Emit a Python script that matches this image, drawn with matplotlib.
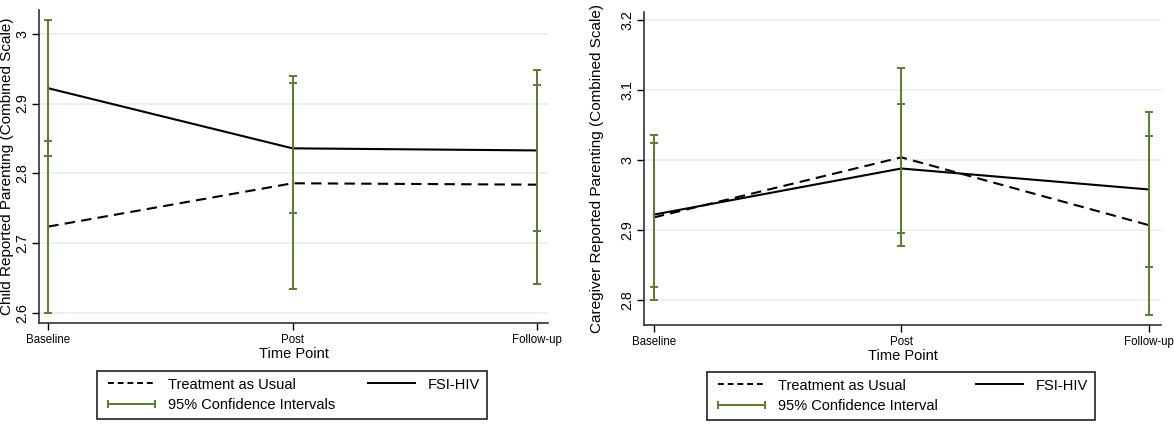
import matplotlib
matplotlib.use("Agg")
import matplotlib.pyplot as plt
from matplotlib.lines import Line2D
import numpy as np

plt.rcParams['font.family'] = ['Liberation Sans', 'DejaVu Sans']

# ---------------- data ----------------
time_points = ["Baseline", "Post", "Follow-up"]

# Panel 1: child reported
child_fsi_mean = [2.922, 2.836, 2.833]
child_fsi_lo = [2.825, 2.743, 2.718]
child_fsi_hi = [3.019, 2.929, 2.948]
child_tau_mean = [2.724, 2.786, 2.784]
child_tau_lo = [2.600, 2.634, 2.642]
child_tau_hi = [2.847, 2.939, 2.926]
child_yticks = [2.6, 2.7, 2.8, 2.9, 3.0]
child_yticklabels = ["2.6", "2.7", "2.8", "2.9", "3"]

# Panel 2: caregiver reported
care_fsi_mean = [2.922, 2.988, 2.958]
care_fsi_lo = [2.819, 2.895, 2.847]
care_fsi_hi = [3.025, 3.081, 3.069]
care_tau_mean = [2.918, 3.004, 2.907]
care_tau_lo = [2.800, 2.877, 2.779]
care_tau_hi = [3.036, 3.132, 3.034]
care_yticks = [2.8, 2.9, 3.0, 3.1, 3.2]
care_yticklabels = ["2.8", "2.9", "3", "3.1", "3.2"]

GREEN = '#5a7d2e'
GRID = '#e6efef'

fig = plt.figure(figsize=(11.74, 4.25), dpi=100)
ax1 = fig.add_axes([39/1174, 1-323/425, 509/1174, 313/425])
ax2 = fig.add_axes([644/1174, 1-325/425, 517/1174, 313/425])


def draw_panel(ax, fsi_m, fsi_lo, fsi_hi, tau_m, tau_lo, tau_hi,
               yticks, yticklabels, ylim, xlim, ylabel, ylabel_x):
    x = np.arange(1, len(time_points) + 1)
    for yt in yticks:
        ax.axhline(yt, color=GRID, lw=1.2, zorder=0)
    ax.plot(x, tau_m, color='black', lw=1.5, dashes=(5, 3), zorder=2)
    ax.plot(x, fsi_m, color='black', lw=1.5, zorder=2)
    for m, lo, hi in ((fsi_m, fsi_lo, fsi_hi), (tau_m, tau_lo, tau_hi)):
        m = np.array(m); lo = np.array(lo); hi = np.array(hi)
        ax.errorbar(x, m, yerr=[m - lo, hi - m], fmt='none', ecolor=GREEN,
                    elinewidth=1.4, capsize=3, capthick=1.4, zorder=3)
    ax.set_xlim(*xlim)
    ax.set_ylim(*ylim)
    ax.set_xticks(x)
    ax.set_xticklabels(time_points, fontsize=8.3)
    ax.set_yticks(yticks)
    ax.set_yticklabels(yticklabels, fontsize=10.3, rotation=90, va='center')
    ax.tick_params(axis='x', length=5, width=1, pad=3, colors='black')
    ax.tick_params(axis='y', length=5, width=1, pad=2, colors='black')
    for s in ('top', 'right'):
        ax.spines[s].set_visible(False)
    for s in ('left', 'bottom'):
        ax.spines[s].set_linewidth(1.1)
        ax.spines[s].set_color('#222222')
    ax.set_xlabel("Time Point", fontsize=10.5, labelpad=1)
    ax.set_ylabel(ylabel, fontsize=11, va='center')
    ax.yaxis.set_label_coords(ylabel_x, 0.5)


draw_panel(ax1, child_fsi_mean, child_fsi_lo, child_fsi_hi,
           child_tau_mean, child_tau_lo, child_tau_hi,
           child_yticks, child_yticklabels, (2.586, 3.034), (0.962, 3.046),
           "Child Reported Parenting (Combined Scale)", -0.063)
draw_panel(ax2, care_fsi_mean, care_fsi_lo, care_fsi_hi,
           care_tau_mean, care_tau_lo, care_tau_hi,
           care_yticks, care_yticklabels, (2.764, 3.212), (0.96, 3.05),
           "Caregiver Reported Parenting (Combined Scale)", -0.091)


def make_legend(x0, width, top, ci_label):
    h_tau = Line2D([], [], color='black', lw=1.4, dashes=(3, 2))
    h_ci = Line2D([], [], color=GREEN, lw=1.4, marker='|', markersize=6,
                  markeredgewidth=1.4)
    h_fsi = Line2D([], [], color='black', lw=1.4)
    leg = fig.legend([h_tau, h_ci, h_fsi],
                     ["Treatment as Usual", ci_label, "FSI-HIV"],
                     ncol=2, loc='upper left', mode='expand',
                     bbox_to_anchor=(x0, top, width, 0),
                     bbox_transform=fig.transFigure, borderaxespad=0,
                     fontsize=10.5, handlelength=3.8, handletextpad=0.6,
                     numpoints=2, fancybox=False, framealpha=1,
                     edgecolor='#333333', borderpad=0.45, labelspacing=0.45)
    leg.get_frame().set_linewidth(1.3)
    return leg


make_legend(97/1174, 390/1174, 1-371/425, "95% Confidence Intervals")
make_legend(707/1174, 388/1174, 1-372/425, "95% Confidence Interval")

fig.savefig("out.png", dpi=100)
